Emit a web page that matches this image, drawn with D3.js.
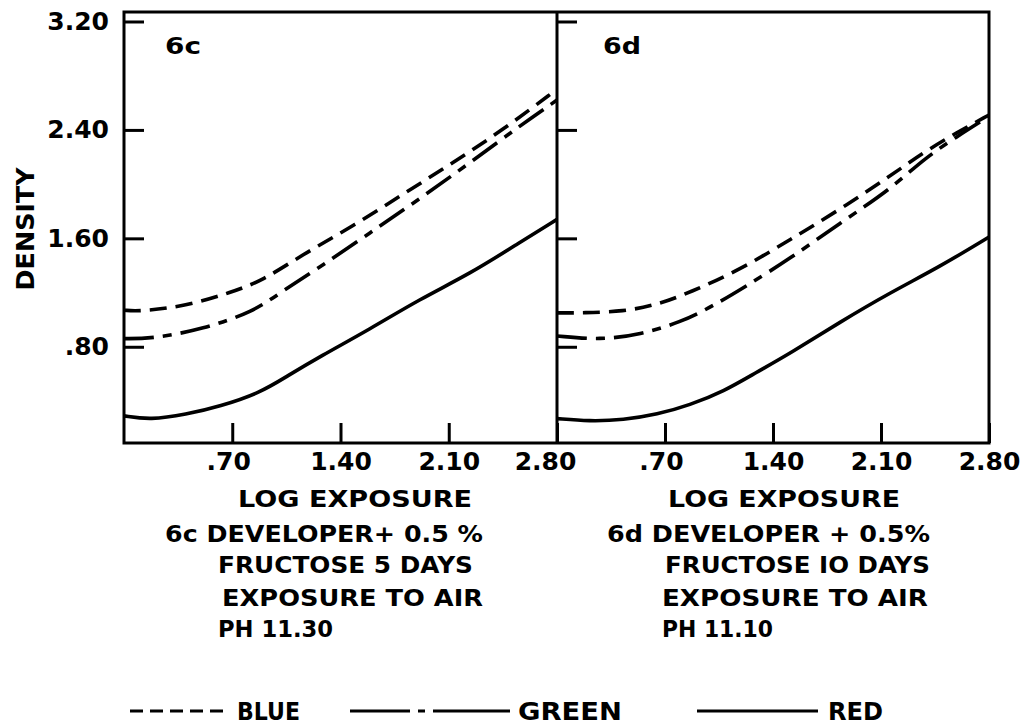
<!DOCTYPE html>
<html>
<head>
<meta charset="utf-8">
<script src="https://cdn.jsdelivr.net/npm/d3@7"></script>
<style>
  html, body { margin: 0; padding: 0; background: #fff; }
  svg text { font-family: "DejaVu Sans", "Liberation Sans", Arial, sans-serif; font-weight: bold; fill: #000; }
</style>
</head>
<body>
<svg id="chart" width="1022" height="727"></svg>
<script>
// Characteristic curves: density vs log exposure, two developer conditions.
const logExposureTicks = [0.7, 1.4, 2.1, 2.8];
const logExposureTickLabels = [".70", "1.40", "2.10", "2.80"];
const densityTicks = [0.8, 1.6, 2.4, 3.2];
const densityTickLabels = [".80", "1.60", "2.40", "3.20"];

// Panel 6c — 5 days exposure to air, pH 11.30
const logE6c_blue  = [0.00, 0.10, 0.40, 0.69, 0.90, 1.14, 1.48, 1.81, 2.13, 2.45, 2.80];
const density6c_blue  = [1.07, 1.06, 1.10, 1.20, 1.29, 1.47, 1.69, 1.93, 2.16, 2.40, 2.70];
const logE6c_green = [0.00, 0.19, 0.51, 0.84, 1.01, 1.27, 1.59, 1.91, 2.24, 2.56, 2.80];
const density6c_green = [0.86, 0.86, 0.93, 1.06, 1.20, 1.39, 1.64, 1.89, 2.16, 2.43, 2.62];
const logE6c_red   = [0.00, 0.17, 0.40, 0.62, 0.88, 1.05, 1.27, 1.59, 1.91, 2.24, 2.56, 2.80];
const density6c_red   = [0.29, 0.26, 0.30, 0.36, 0.46, 0.58, 0.73, 0.93, 1.15, 1.34, 1.57, 1.74];

// Panel 6d — 10 days exposure to air, pH 11.10
const logE6d_blue  = [0.00, 0.17, 0.43, 0.65, 0.86, 1.19, 1.51, 1.83, 2.16, 2.37, 2.59, 2.80];
const density6d_blue  = [1.05, 1.05, 1.06, 1.11, 1.20, 1.37, 1.59, 1.81, 2.06, 2.23, 2.38, 2.51];
const logE6d_green = [0.00, 0.28, 0.54, 0.80, 1.01, 1.23, 1.51, 1.83, 2.16, 2.37, 2.59, 2.80];
const density6d_green = [0.88, 0.85, 0.89, 0.98, 1.10, 1.25, 1.45, 1.71, 1.96, 2.18, 2.35, 2.50];
const logE6d_red   = [0.00, 0.21, 0.43, 0.65, 0.86, 1.08, 1.29, 1.51, 1.83, 2.16, 2.48, 2.80];
const density6d_red   = [0.27, 0.25, 0.26, 0.30, 0.37, 0.47, 0.61, 0.75, 0.98, 1.20, 1.39, 1.61];

const seriesNames = ["BLUE", "GREEN", "RED"];

const panelTags = ["6c", "6d"];
const captions6c = ["6c DEVELOPER+ 0.5 %", "FRUCTOSE  5 DAYS", "EXPOSURE  TO AIR", "PH 11.30"];
const captions6d = ["6d  DEVELOPER + 0.5%", "FRUCTOSE  IO DAYS", "EXPOSURE  TO AIR", "PH 11.10"];

const svg = d3.select("#chart");
const ink = "#000";

const y = d3.scaleLinear().domain([0.09, 3.27]).range([443, 12]);
const xLeft = d3.scaleLinear().domain([0, 2.8]).range([124, 557]);
const xRight = d3.scaleLinear().domain([0, 2.8]).range([557, 989]);

const dashStyles = { BLUE: "17 9", GREEN: "30 9 9 9", RED: null };

const zip = (xs, ys) => xs.map((v, i) => [v, ys[i]]);

const panels = [
  { x: xLeft, tag: panelTags[0], tagX: 165, tagLen: 36,
    series: { BLUE: zip(logE6c_blue, density6c_blue), GREEN: zip(logE6c_green, density6c_green), RED: zip(logE6c_red, density6c_red) },
    captions: captions6c,
    capX: [165, 218, 222, 218], capW: [318, 255, 261, 115], titleX: 238, titleW: 234 },
  { x: xRight, tag: panelTags[1], tagX: 603, tagLen: 38,
    series: { BLUE: zip(logE6d_blue, density6d_blue), GREEN: zip(logE6d_green, density6d_green), RED: zip(logE6d_red, density6d_red) },
    captions: captions6d,
    capX: [607, 665, 662, 662], capW: [323, 265, 266, 111], titleX: 668, titleW: 232 }
];

panels.forEach((p, pi) => {
  const g = svg.append("g");

  // curves
  seriesNames.forEach(name => {
    const line = d3.line()
      .x(d => p.x(d[0]))
      .y(d => y(d[1]))
      .curve(d3.curveBasis);
    g.append("path")
      .datum(p.series[name])
      .attr("d", line)
      .attr("fill", "none")
      .attr("stroke", ink)
      .attr("stroke-width", 3.6)
      .attr("stroke-dasharray", dashStyles[name])
      .attr("stroke-linecap", "butt");
  });

  // bottom axis, ticks pointing inward
  const xAxis = d3.axisBottom(p.x)
    .tickValues(logExposureTicks)
    .tickFormat((d, i) => logExposureTickLabels[i])
    .tickSizeInner(-20)
    .tickSizeOuter(0)
    .tickPadding(9);
  const xg = g.append("g").attr("transform", "translate(0,443)").call(xAxis);
  xg.select(".domain").remove();
  xg.selectAll("line").attr("stroke", ink).attr("stroke-width", 3);
  xg.selectAll("text").style("font-size", "25px").attr("fill", ink)
    .attr("font-family", null)
    .attr("dx", (d, i) => (pi === 0 && i === 3) ? -12 : (i === 0 ? -4 : 0));

  // left axis, ticks pointing inward
  const yAxis = d3.axisLeft(y)
    .tickValues(densityTicks)
    .tickFormat((d, i) => pi === 0 ? densityTickLabels[i] : "")
    .tickSizeInner(-20)
    .tickSizeOuter(0)
    .tickPadding(15);
  const yg = g.append("g").attr("transform", `translate(${p.x(0)},0)`).call(yAxis);
  yg.select(".domain").remove();
  yg.selectAll("line").attr("stroke", ink).attr("stroke-width", 3);
  yg.selectAll("text").style("font-size", "25px").attr("fill", ink).attr("font-family", null);

  // panel tag
  g.append("text")
    .attr("x", p.tagX).attr("y", 54)
    .attr("textLength", p.tagLen).attr("lengthAdjust", "spacingAndGlyphs")
    .style("font-size", "23px")
    .text(p.tag);

  // axis title
  g.append("text")
    .attr("x", p.titleX).attr("y", 507)
    .attr("textLength", p.titleW).attr("lengthAdjust", "spacingAndGlyphs")
    .style("font-size", "23px")
    .text("LOG EXPOSURE");

  // caption block
  const baselines = [542, 573, 606, 637];
  p.captions.forEach((t, i) => {
    g.append("text")
      .attr("x", p.capX[i]).attr("y", baselines[i])
      .attr("textLength", p.capW[i]).attr("lengthAdjust", "spacingAndGlyphs")
      .style("font-size", "23px")
      .text(t);
  });
});

// frame around both panels with the shared divider
const frame = svg.append("g").attr("fill", "none").attr("stroke", ink).attr("stroke-width", 3);
frame.append("rect")
  .attr("x", xLeft(0)).attr("y", y(3.27))
  .attr("width", xRight(2.8) - xLeft(0))
  .attr("height", y(0.09) - y(3.27));
frame.append("line")
  .attr("x1", xRight(0)).attr("x2", xRight(0))
  .attr("y1", y(3.27)).attr("y2", y(0.09));

// vertical axis title
svg.append("text")
  .attr("transform", "translate(34,229) rotate(-90)")
  .attr("text-anchor", "middle")
  .attr("textLength", 123).attr("lengthAdjust", "spacingAndGlyphs")
  .style("font-size", "25px")
  .text("DENSITY");

// legend
const legendItems = [
  { name: "BLUE",  x1: 130, x2: 230, dash: "13 7",             tx: 237, tw: 63 },
  { name: "GREEN", x1: 350, x2: 510, dash: "60 8 7 8 80",      tx: 518, tw: 104 },
  { name: "RED",   x1: 697, x2: 818, dash: null,               tx: 828, tw: 55 }
];
const lg = svg.append("g");
legendItems.forEach(it => {
  lg.append("line")
    .attr("x1", it.x1).attr("x2", it.x2).attr("y1", 711).attr("y2", 711)
    .attr("stroke", ink).attr("stroke-width", 3)
    .attr("stroke-dasharray", it.dash);
  lg.append("text")
    .attr("x", it.tx).attr("y", 720)
    .attr("textLength", it.tw).attr("lengthAdjust", "spacingAndGlyphs")
    .style("font-size", "24px")
    .text(it.name);
});
</script>
</body>
</html>
